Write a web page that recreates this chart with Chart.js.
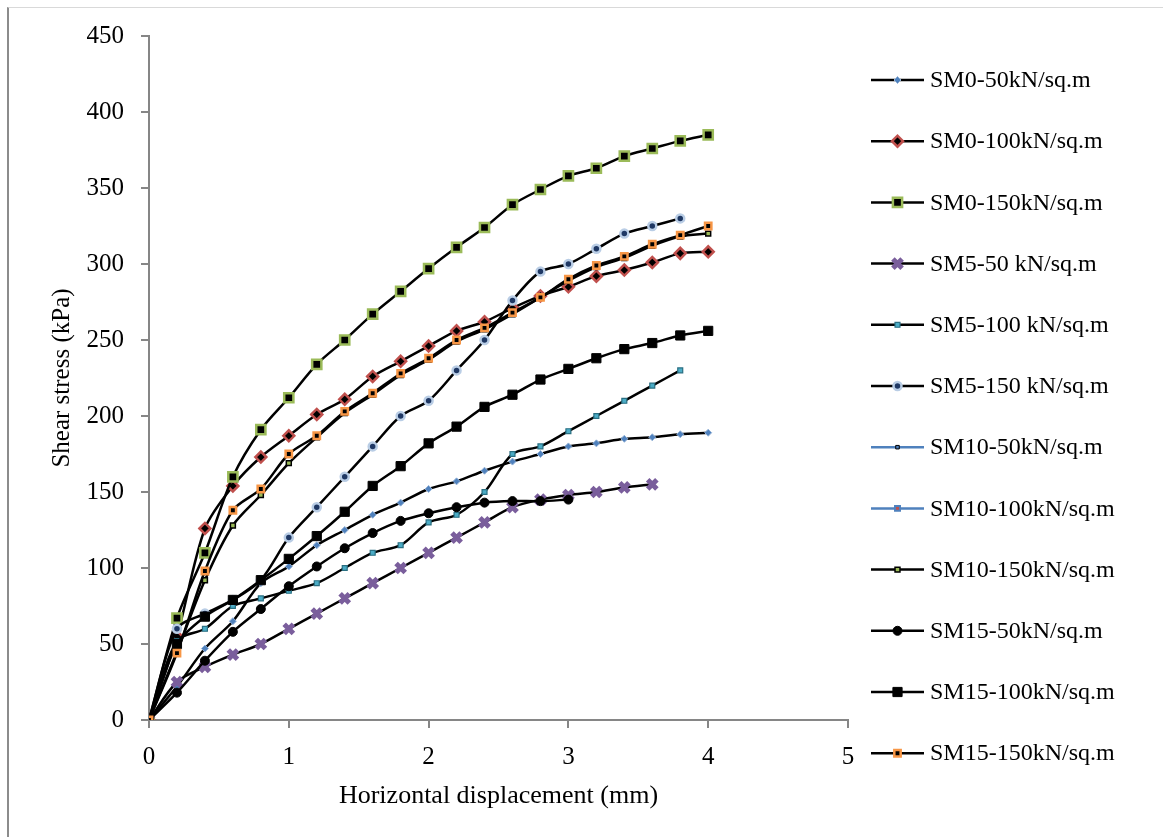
<!DOCTYPE html>
<html><head><meta charset="utf-8">
<script src="https://cdn.jsdelivr.net/npm/chart.js@4/dist/chart.umd.min.js"></script>
<style>
html,body{margin:0;padding:0;background:#fff;}
#wrap{position:relative;width:1163px;height:837px;overflow:hidden;background:#fff;}
#frame{position:absolute;left:7px;top:7px;width:1200px;height:900px;border-left:2px solid #8c8c8c;border-top:1px solid #d9d9d9;}
canvas{position:absolute;left:0;top:0;}
</style></head><body>
<div id="wrap"><div id="frame"></div><canvas id="c" width="1163" height="837"></canvas></div>
<script>
// Horizontal displacement (mm)
const displacement = [0,0.2,0.4,0.6,0.8,1.0,1.2,1.4,1.6,1.8,2.0,2.2,2.4,2.6,2.8,3.0,3.2,3.4,3.6,3.8,4.0];
const xTicks = [0,1,2,3,4,5];
const yTicks = [0,50,100,150,200,250,300,350,400,450];

const seriesNames = ["SM0-50kN/sq.m","SM0-100kN/sq.m","SM0-150kN/sq.m","SM5-50 kN/sq.m","SM5-100 kN/sq.m","SM5-150 kN/sq.m","SM10-50kN/sq.m","SM10-100kN/sq.m","SM10-150kN/sq.m","SM15-50kN/sq.m","SM15-100kN/sq.m","SM15-150kN/sq.m"];

// Shear stress (kPa)
const sm0_50   = [0,22,47,65,90,101,115,125,135,143,152,157,164,170,175,180,182,185,186,188,189];
const sm0_100  = [0,55,126,154,173,187,201,211,226,236,246,256,262,271,279,285,292,296,301,307,308];
const sm0_150  = [0,67,110,160,191,212,234,250,267,282,297,311,324,339,349,358,363,371,376,381,385];
const sm5_50   = [0,25,35,43,50,60,70,80,90,100,110,120,130,140,145,148,150,153,155];
const sm5_100  = [0,52,60,75,80,85,90,100,110,115,130,135,150,175,180,190,200,210,220,230];
const sm5_150  = [0,60,70,79,92,120,140,160,180,200,210,230,250,276,295,300,310,320,325,330];
const sm10_50  = [];
const sm10_100 = [];
const sm10_150 = [0,45,92,128,148,169,186,202,214,227,237,249,257,267,278,289,298,304,312,318,320];
const sm15_50  = [0,18,39,58,73,88,101,113,123,131,136,140,143,144,144,145];
const sm15_100 = [0,50,68,79,92,106,121,137,154,167,182,193,206,214,224,231,238,244,248,253,256];
const sm15_150 = [0,44,98,138,152,175,187,203,215,228,238,250,258,268,278,290,299,305,313,319,325];

const allSeries = [sm0_50,sm0_100,sm0_150,sm5_50,sm5_100,sm5_150,sm10_50,sm10_100,sm10_150,sm15_50,sm15_100,sm15_150];

const styles = [
  {line:'#000', ps:'rectRot', r:3.5, bg:'#4F81BD', bc:'#95B3D7', bw:1},
  {line:'#000', ps:'rectRot', r:5.5, bg:'#000', bc:'#C0504D', bw:2.5},
  {line:'#000', ps:'rect', r:6.5, bg:'#000', bc:'#9BBB59', bw:2.5},
  {line:'#000', ps:'crossRot', r:6.5, bg:'#8064A2', bc:'#7A5E9C', bw:5},
  {line:'#000', ps:'rect', r:3.5, bg:'#4BACC6', bc:'#2A6F82', bw:1.2},
  {line:'#000', ps:'circle', r:4, bg:'#1F3864', bc:'#B9CDE5', bw:2.5},
  {line:'#4F81BD', ps:'rect', r:2.5, bg:'#4F81BD', bc:'#000', bw:1},
  {line:'#4F81BD', ps:'rect', r:3.5, bg:'#C0504D', bc:'#4F81BD', bw:2},
  {line:'#000', ps:'rect', r:3.5, bg:'#9BBB59', bc:'#000', bw:1.5},
  {line:'#000', ps:'circle', r:4.5, bg:'#000', bc:'#000', bw:1},
  {line:'#000', ps:'rect', r:6.5, bg:'#000', bc:'#000', bw:1},
  {line:'#000', ps:'rect', r:4.5, bg:'#000', bc:'#F79646', bw:2.5}
];

const toPoints = ys => ys.map((v,i)=>({x:displacement[i], y:v}));

const datasets = seriesNames.map((name,i)=>({
  label:name,
  data:toPoints(allSeries[i]),
  showLine:true,
  fill:false,
  borderColor:styles[i].line,
  borderWidth:2.5,
  tension:0.3,
  pointStyle:styles[i].ps,
  pointRadius:styles[i].r,
  pointHoverRadius:styles[i].r,
  pointBackgroundColor:styles[i].bg,
  pointBorderColor:styles[i].bc,
  pointBorderWidth:styles[i].bw,
  order:seriesNames.length - i
}));

const sideLegend = {
  id:'sideLegend',
  afterDraw(chart){
    const ctx = chart.ctx;
    ctx.save();
    chart.data.datasets.forEach((ds,i)=>{
      const y = 80 + i*61.2;
      ctx.strokeStyle = ds.borderColor;
      ctx.lineWidth = 2.5;
      ctx.beginPath(); ctx.moveTo(871,y); ctx.lineTo(924,y); ctx.stroke();
      ctx.fillStyle = ds.pointBackgroundColor;
      ctx.strokeStyle = ds.pointBorderColor;
      ctx.lineWidth = ds.pointBorderWidth;
      Chart.helpers.drawPoint(ctx,{pointStyle:ds.pointStyle, radius:ds.pointRadius, borderWidth:ds.pointBorderWidth, rotation:0}, 897.5, y);
      ctx.fillStyle = '#000';
      ctx.font = '24px "Liberation Serif"';
      ctx.textBaseline = 'middle';
      ctx.textAlign = 'left';
      ctx.fillText(ds.label, 930, y+1);
    });
    ctx.restore();
  }
};

const serif = 'Liberation Serif';
new Chart(document.getElementById('c'), {
  type:'scatter',
  data:{datasets},
  plugins:[sideLegend],
  options:{
    responsive:false,
    animation:false,
    devicePixelRatio:1,
    layout:{padding:{left:8, top:36, right:315, bottom:0}},
    plugins:{legend:{display:false}, tooltip:{enabled:false}},
    scales:{
      x:{
        type:'linear', min:0, max:5,
        afterBuildTicks(s){ s.ticks = xTicks.map(v=>({value:v})); },
        ticks:{color:'#000', font:{family:serif, size:25}, padding:14},
        grid:{drawOnChartArea:false, color:'#868686', lineWidth:2, tickLength:8},
        border:{color:'#868686', width:2},
        title:{display:true, text:'Horizontal displacement (mm)', color:'#000', font:{family:serif, size:26}, padding:{top:0, bottom:25}},
        afterFit(s){ s.height = 117; }
      },
      y:{
        type:'linear', min:0, max:450,
        afterBuildTicks(s){ s.ticks = yTicks.map(v=>({value:v})); },
        ticks:{color:'#000', font:{family:serif, size:25}, padding:17},
        grid:{drawOnChartArea:false, color:'#868686', lineWidth:2, tickLength:8},
        border:{color:'#868686', width:2},
        title:{display:true, text:'Shear stress (kPa)', color:'#000', font:{family:serif, size:25}, padding:{top:39, bottom:0}},
        afterFit(s){ s.width = 141; }
      }
    }
  }
});
</script>
</body></html>
